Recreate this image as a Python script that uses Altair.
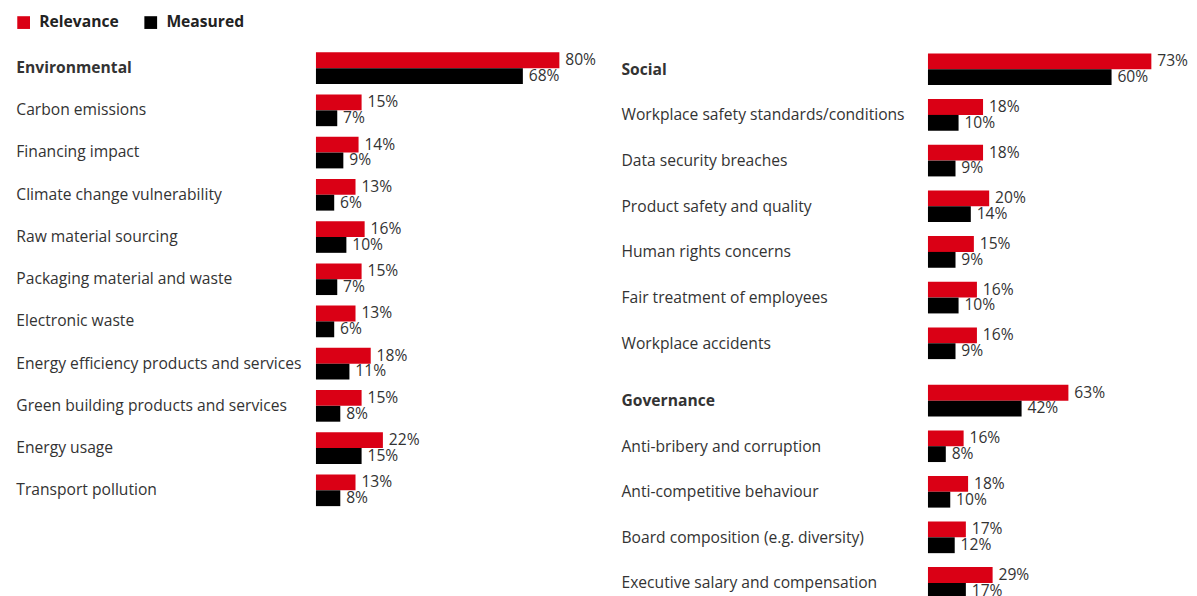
import altair as alt
import pandas as pd

series = ["Relevance", "Measured"]
colors = ["#DA0015", "#000000"]

env_cats = ["Environmental", "Carbon emissions", "Financing impact", "Climate change vulnerability",
            "Raw material sourcing", "Packaging material and waste", "Electronic waste",
            "Energy efficiency products and services", "Green building products and services",
            "Energy usage", "Transport pollution"]
env_rel = [80, 15, 14, 13, 16, 15, 13, 18, 15, 22, 13]
env_mea = [68, 7, 9, 6, 10, 7, 6, 11, 8, 15, 8]

soc_cats = ["Social", "Workplace safety standards/conditions", "Data security breaches",
            "Product safety and quality", "Human rights concerns", "Fair treatment of employees",
            "Workplace accidents"]
soc_rel = [73, 18, 18, 20, 15, 16, 16]
soc_mea = [60, 10, 9, 14, 9, 10, 9]

gov_cats = ["Governance", "Anti-bribery and corruption", "Anti-competitive behaviour",
            "Board composition (e.g. diversity)", "Executive salary and compensation"]
gov_rel = [63, 16, 18, 17, 29]
gov_mea = [42, 8, 10, 12, 17]

FONT = "Open Sans"
TXT = "#333333"
FS = 16


def make_df(cats, rel, mea):
    rows = []
    for c, r, m in zip(cats, rel, mea):
        rows.append({"category": c, "series": "Relevance", "value": r, "label": f"{r}%"})
        rows.append({"category": c, "series": "Measured", "value": m, "label": f"{m}%"})
    return pd.DataFrame(rows)


def panel(cats, rel, mea, head, width, dom, height, pinner, lpad):
    df = make_df(cats, rel, mea)
    y = alt.Y("category:N", sort=cats,
              scale=alt.Scale(paddingInner=pinner, paddingOuter=pinner / 2),
              axis=alt.Axis(title=None, domain=False, ticks=False, tickSize=0,
                            labelAlign="left", labelPadding=lpad, labelFontSize=FS,
                            labelColor=TXT, labelFont=FONT, labelLimit=400,
                            labelFontWeight={"condition": {"test": f"datum.value == '{head}'",
                                                           "value": "bold"},
                                             "value": "normal"}))
    yoff = alt.YOffset("series:N", sort=series)
    x = alt.X("value:Q", scale=alt.Scale(domain=[0, dom], nice=False, zero=True), axis=None)
    bars = alt.Chart(df).mark_bar().encode(
        y=y, yOffset=yoff, x=x,
        color=alt.Color("series:N", sort=series,
                        scale=alt.Scale(domain=series, range=colors),
                        legend=alt.Legend(title=None, orient="none", direction="horizontal",
                                          legendX=-307, legendY=-33,
                                          symbolType="square", symbolSize=170,
                                          symbolStrokeWidth=0, labelFontSize=FS,
                                          labelFontWeight="bold", labelColor="#222222",
                                          labelFont=FONT, columnPadding=24, labelOffset=8))
    )
    text = alt.Chart(df).mark_text(align="left", baseline="middle", dx=6, fontSize=FS,
                                   color=TXT, font=FONT).encode(
        y=y, yOffset=yoff, x=x, text="label:N")
    return alt.layer(bars, text).properties(width=width, height=height)


left = panel(env_cats, env_rel, env_mea, "Environmental", 305, 98, 475, 0.25, 307)
social = panel(soc_cats, soc_rel, soc_mea, "Social", 244, 244 / 3.13, 327, 0.28, 314)
gov = panel(gov_cats, gov_rel, gov_mea, "Governance", 244, 244 / 2.28, 233, 0.28, 314)

right = alt.vconcat(social, gov, spacing=12)
chart = alt.hconcat(left, right, spacing=7).properties(
    padding={"left": 8, "top": 0, "right": 0, "bottom": 0}
).configure(font=FONT).configure_view(stroke=None)

chart.save("out.html", embed_options={"renderer": "svg", "actions": False})
